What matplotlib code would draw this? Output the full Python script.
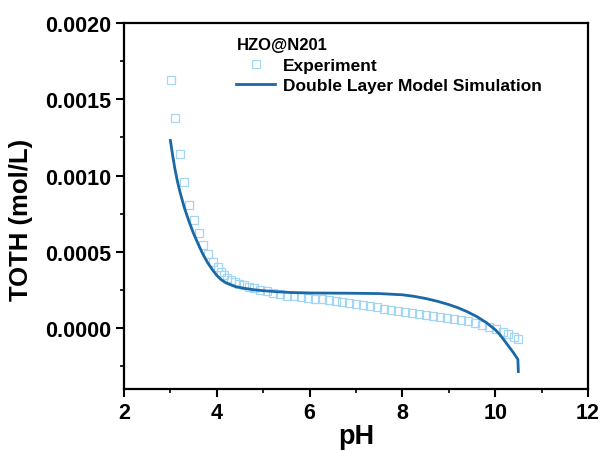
import matplotlib
matplotlib.use("Agg")
import matplotlib.pyplot as plt
from matplotlib.ticker import MultipleLocator

plt.rcParams['font.family'] = ['Liberation Sans', 'DejaVu Sans']
plt.rcParams['font.weight'] = 'bold'

# Experiment data (pH, TOTH mol/L)
exp_ph = [3.01, 3.09, 3.21, 3.30, 3.41, 3.50, 3.61, 3.71, 3.82, 3.92,
          4.02, 4.09, 4.16, 4.23, 4.31, 4.39, 4.48, 4.58, 4.69, 4.81,
          4.94, 5.08, 5.22, 5.37, 5.51, 5.66, 5.81, 5.96, 6.11, 6.26,
          6.41, 6.56, 6.71, 6.86, 7.01, 7.16, 7.31, 7.46, 7.61, 7.76,
          7.91, 8.06, 8.21, 8.36, 8.51, 8.66, 8.81, 8.96, 9.11, 9.26,
          9.41, 9.56, 9.71, 9.86, 10.01, 10.16, 10.28, 10.40, 10.50]
exp_toth = [16.27, 13.75, 11.43, 9.56, 8.09, 7.06, 6.20, 5.46, 4.85, 4.36,
            3.97, 3.70, 3.48, 3.30, 3.15, 3.02, 2.90, 2.79, 2.69, 2.60,
            2.52, 2.43, 2.30, 2.20, 2.13, 2.07, 2.02, 1.97, 1.93, 1.89,
            1.84, 1.79, 1.73, 1.67, 1.60, 1.52, 1.44, 1.36, 1.28, 1.20,
            1.12, 1.05, 0.98, 0.91, 0.84, 0.78, 0.72, 0.67, 0.61, 0.53,
            0.44, 0.34, 0.22, 0.08, -0.07, -0.26, -0.42, -0.58, -0.72]
exp_toth = [v * 1e-4 for v in exp_toth]

# Double layer model simulation
sim_ph = [3.00, 3.05, 3.10, 3.15, 3.20, 3.30, 3.40, 3.50, 3.60, 3.70,
          3.80, 3.90, 4.00, 4.10, 4.20, 4.40, 4.60, 4.80, 5.00, 5.30,
          5.60, 6.00, 6.50, 7.00, 7.50, 8.00, 8.25, 8.50, 8.75, 9.00,
          9.20, 9.40, 9.60, 9.80, 10.00, 10.10, 10.20, 10.30, 10.40, 10.49,
          10.50]
sim_toth = [12.3, 11.3, 10.4, 9.65, 9.0, 7.9, 7.0, 6.2, 5.5, 4.85,
            4.3, 3.85, 3.45, 3.16, 2.96, 2.72, 2.60, 2.51, 2.45, 2.38,
            2.33, 2.30, 2.29, 2.28, 2.26, 2.18, 2.08, 1.94, 1.76, 1.54,
            1.33, 1.07, 0.76, 0.38, -0.10, -0.42, -0.82, -1.23, -1.64, -2.05,
            -2.85]
sim_toth = [v * 1e-4 for v in sim_toth]

x_ticks = [2, 4, 6, 8, 10, 12]
y_ticks = [0.0000, 0.0005, 0.0010, 0.0015, 0.0020]
y_ticklabels = ['0.0000', '0.0005', '0.0010', '0.0015', '0.0020']

fig = plt.figure(figsize=(6.03, 4.52), dpi=100)
ax = fig.add_axes([0.2056, 0.137, 0.7694, 0.810])

ax.plot(exp_ph, exp_toth, linestyle='none', marker='s', markersize=5.2,
        markerfacecolor='none', markeredgecolor='#a3d6f2', markeredgewidth=0.9,
        label='Experiment')
ax.plot(sim_ph, sim_toth, color='#1b68a6', linewidth=2.0,
        label='Double Layer Model Simulation')

ax.set_xlim(2, 12)
ax.set_ylim(-0.0004, 0.0020)
ax.set_xticks(x_ticks)
ax.set_yticks(y_ticks)
ax.set_yticklabels(y_ticklabels)
ax.xaxis.set_minor_locator(MultipleLocator(1))
ax.yaxis.set_minor_locator(MultipleLocator(0.00025))
ax.tick_params(which='major', direction='out', length=6, width=1.5,
               labelsize=15.5, top=False, right=False)
ax.tick_params(which='minor', direction='out', length=3, width=1.2,
               top=False, right=False)
for lab in ax.get_xticklabels() + ax.get_yticklabels():
    lab.set_fontweight('bold')
for sp in ax.spines.values():
    sp.set_linewidth(1.6)

ax.set_xlabel('pH', fontsize=19.5, fontweight='bold', labelpad=0)
ax.set_ylabel('TOTH (mol/L)', fontsize=18.5, fontweight='bold')
ax.yaxis.set_label_coords(-0.196, 0.464)

leg = ax.legend(loc='upper left', bbox_to_anchor=(0.22, 0.99), frameon=False,
                title='HZO@N201', title_fontproperties={'weight': 'bold', 'size': 12},
                prop={'weight': 'bold', 'size': 12.5}, handlelength=2.2,
                handletextpad=0.5, labelspacing=0.32, borderaxespad=0.2)
leg._legend_box.align = 'left'

fig.savefig('out.png', dpi=100)
